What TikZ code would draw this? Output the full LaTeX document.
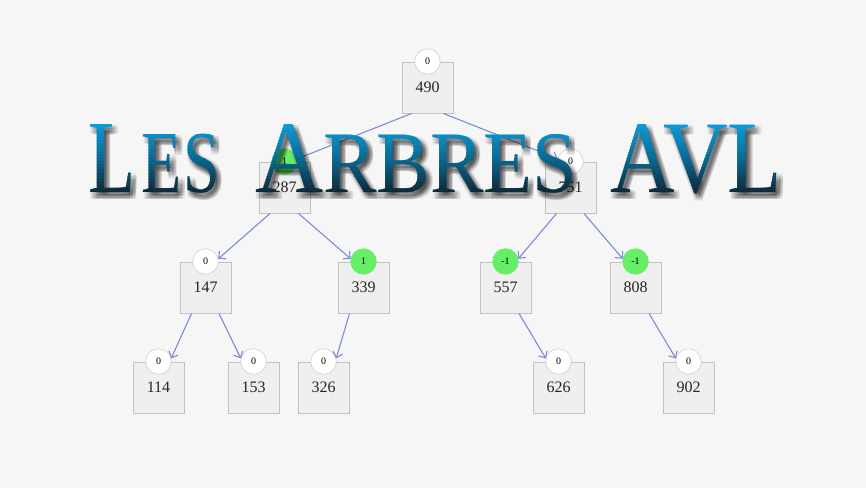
\documentclass[tikz,border=0pt]{standalone}
\usepackage{fontspec}
\setmainfont{Liberation Serif}
\newfontfamily\titlefont{Liberation Serif}
\usetikzlibrary{arrows.meta,calc}
\definecolor{bg}{HTML}{F6F6F6}
\definecolor{boxfill}{HTML}{EFEFEF}
\definecolor{boxline}{HTML}{C2C2C2}
\definecolor{circline}{HTML}{D4D4D4}
\definecolor{balgreen}{HTML}{66EE66}
\definecolor{edgec}{HTML}{7A8CD6}
\definecolor{ttop}{HTML}{0AA8EA}
\definecolor{tmid}{HTML}{0A6B94}
\definecolor{tbot}{HTML}{0E1A22}
\newcommand\wLes{\resizebox{132pt}{68pt}{\titlefont\fontsize{100}{100}\selectfont L\kern8pt\fontsize{85}{85}\selectfont E\kern2pt S}}
\newcommand\wArbres{\resizebox{322pt}{68pt}{\titlefont\fontsize{100}{100}\selectfont A\fontsize{85}{85}\selectfont RBRES}}
\newcommand\wAvl{\resizebox{172pt}{68pt}{\titlefont\fontsize{100}{100}\selectfont AVL}}
\newcommand\drawtitle[2]{%
  \node[ttlnode,text=#1,#2] (tles) at (88,192) {\wLes};
  \node[ttlnode,text=#1,#2] (tarbres) at (255,192) {\wArbres};
  \node[ttlnode,text=#1,#2] (tavl) at (610,192) {\wAvl};
}
\tikzset{
  treebox/.style={rectangle,draw=boxline,fill=boxfill,minimum width=51pt,minimum height=51pt,inner sep=0pt,line width=1pt,font=\fontsize{16}{16}\selectfont,text=black!85},
  bal/.style={circle,draw=circline,fill=white,minimum size=25.5pt,inner sep=0pt,line width=0.7pt,font=\fontsize{10}{10}\selectfont},
  balg/.style={bal,fill=balgreen,draw=balgreen},
  treeedge/.style={draw=edgec,line width=1.1pt,-{Straight Barb[length=5pt,width=10pt]}},
  ttlnode/.style={anchor=base west,inner sep=0pt,outer sep=0pt},
}
\begin{document}
\begin{tikzpicture}[x=1pt,y=-1pt]
\useasboundingbox (0,0) rectangle (866,488);
\fill[bg] (0,0) rectangle (866,488);
% boxes
\node[treebox] (n490) at (427.5,87.5) {490};
\node[treebox] (n287) at (284.5,187.5) {287};
\node[treebox] (n751) at (570.5,187.5) {751};
\node[treebox] (n147) at (205.5,287.5) {147};
\node[treebox] (n339) at (363.5,287.5) {339};
\node[treebox] (n557) at (505.5,287.5) {557};
\node[treebox] (n808) at (635.5,287.5) {808};
\node[treebox] (n114) at (158.5,387.5) {114};
\node[treebox] (n153) at (253.5,387.5) {153};
\node[treebox] (n326) at (323.5,387.5) {326};
\node[treebox] (n626) at (558.5,387.5) {626};
\node[treebox] (n902) at (688.5,387.5) {902};
% balance circles
\node[bal]  (c490) at (n490.north) {0};
\node[balg] (c287) at (n287.north) {1};
\node[bal]  (c751) at (n751.north) {0};
\node[bal]  (c147) at (n147.north) {0};
\node[balg] (c339) at (n339.north) {1};
\node[balg] (c557) at (n557.north) {-1};
\node[balg] (c808) at (n808.north) {-1};
\node[bal]  (c114) at (n114.north) {0};
\node[bal]  (c153) at (n153.north) {0};
\node[bal]  (c326) at (n326.north) {0};
\node[bal]  (c626) at (n626.north) {0};
\node[bal]  (c902) at (n902.north) {0};
% edges
\draw[treeedge] ($(n490.south west)+(10,0)$) -- (c287.12);
\draw[treeedge] ($(n490.south east)+(-10,0)$) -- (c751.168);
\draw[treeedge] ($(n287.south west)+(11.5,0)$) -- (c147.12);
\draw[treeedge] ($(n287.south east)+(-12,0)$) -- (c339.168);
\draw[treeedge] ($(n751.south west)+(12,0)$) -- (c557.12);
\draw[treeedge] ($(n751.south east)+(-12.5,0)$) -- (c808.168);
\draw[treeedge] ($(n147.south west)+(12,0)$) -- (c114.14);
\draw[treeedge] ($(n147.south east)+(-12.5,0)$) -- (c153.166);
\draw[treeedge] ($(n339.south west)+(12,0)$) -- (c326.14);
\draw[treeedge] ($(n557.south east)+(-12.5,0)$) -- (c626.166);
\draw[treeedge] ($(n808.south east)+(-12.5,0)$) -- (c902.166);
% title shadow (soft, offset down-right)
\foreach \dx in {0.5,2,3.5,5,6.5}{
  \foreach \dy in {1.5,3,4.5,6,7.5}{
    \drawtitle{black}{text opacity=0.045,shift={(\dx,\dy)}}
  }
}
% title gradient in bands
\foreach \i in {0,...,27}{
  \pgfmathsetmacro\ya{116+3*\i}
  \pgfmathsetmacro\yb{\ya+3.4}
  \pgfmathsetmacro\myt{(\i+0.5)/28}
  \pgfmathsetmacro\tpa{min(100,200*\myt)}
  \pgfmathsetmacro\tpb{max(0,200*\myt-100)}
  \colorlet{bandA}{tmid!\tpa!ttop}
  \colorlet{bandc}{tbot!\tpb!bandA}
  \begin{scope}
    \clip (0,\ya) rectangle (866,\yb);
    \drawtitle{bandc}{}
  \end{scope}
}
\end{tikzpicture}
\end{document}
